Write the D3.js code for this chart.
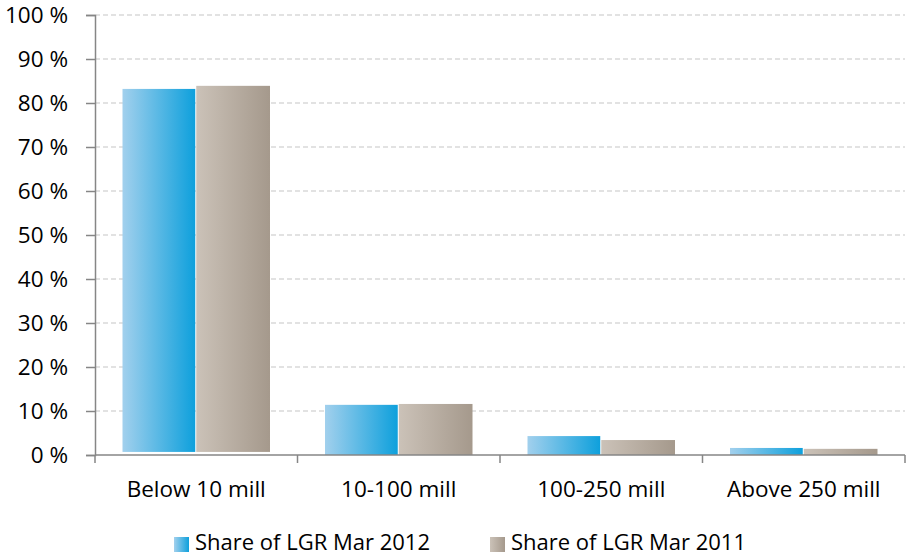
<!DOCTYPE html>
<html>
<head>
<meta charset="utf-8">
<script src="https://cdn.jsdelivr.net/npm/d3@7"></script>
<style>
  html, body { margin: 0; padding: 0; background: #fff; }
  svg { display: block; font-family: "Open Sans", sans-serif; }
</style>
</head>
<body>
<svg id="chart" width="906" height="557"></svg>
<script>
const categories = ["Below 10 mill", "10-100 mill", "100-250 mill", "Above 250 mill"];
const seriesNames = ["Share of LGR Mar 2012", "Share of LGR Mar 2011"];
const share2012 = [83.2, 11.4, 4.3, 1.6];
const share2011 = [83.9, 11.6, 3.4, 1.4];
const barBase = [0.7, 0, 0, 0];
const yTicks = [0, 10, 20, 30, 40, 50, 60, 70, 80, 90, 100];

(function () {
const svg = d3.select("#chart");
const mLeft = 95, mRight = 905, mTop = 15, mBottom = 455;

const x = d3.scaleBand().domain(categories).range([mLeft, mRight]).paddingInner(0).paddingOuter(0);
const y = d3.scaleLinear().domain([0, 100]).range([mBottom, mTop]);
const x1 = d3.scaleBand().domain(seriesNames).range([27.5, x.bandwidth() - 27.5]).padding(0);

const defs = svg.append("defs");
const grads = [
  { id: "gBlue", c0: "#a2d0ed", c1: "#0ea0dc" },
  { id: "gTan", c0: "#cbc2b8", c1: "#a5998c" }
];
grads.forEach(g => {
  const lg = defs.append("linearGradient").attr("id", g.id).attr("x1", "0%").attr("x2", "100%").attr("y1", "0%").attr("y2", "0%");
  lg.append("stop").attr("offset", "0%").attr("stop-color", g.c0);
  lg.append("stop").attr("offset", "100%").attr("stop-color", g.c1);
});

// gridlines
svg.append("g").selectAll("line").data(yTicks.filter(d => d > 0)).join("line")
  .attr("x1", mLeft).attr("x2", mRight)
  .attr("y1", d => y(d)).attr("y2", d => y(d))
  .attr("stroke", "#d9d9d9").attr("stroke-width", 1.5).attr("stroke-dasharray", "5,3");

// bars
const series = [share2012, share2011];
const fills = ["url(#gBlue)", "url(#gTan)"];
series.forEach((vals, si) => {
  svg.append("g").selectAll("rect").data(categories).join("rect")
    .attr("x", (c) => x(c) + x1(seriesNames[si]))
    .attr("width", x1.bandwidth() - (si === 0 ? 1 : 0))
    .attr("y", (c, i) => y(vals[i]))
    .attr("height", (c, i) => y(barBase[i]) - y(vals[i]))
    .attr("fill", fills[si]);
});

// y axis
const yAxis = d3.axisLeft(y).tickValues(yTicks).tickSize(9).tickPadding(18).tickFormat(d => d + " %");
const gy = svg.append("g").attr("transform", `translate(${mLeft},0)`).call(yAxis);
gy.select(".domain").attr("stroke", "#868686").attr("stroke-width", 1.5);
gy.selectAll(".tick line").attr("stroke", "#868686").attr("stroke-width", 1.5);
gy.selectAll(".tick text").attr("font-size", 22.5).attr("fill", "#000").attr("font-family", "Open Sans, sans-serif");

// x axis
const gx = svg.append("g");
gx.append("line").attr("x1", mLeft).attr("x2", mRight).attr("y1", mBottom).attr("y2", mBottom)
  .attr("stroke", "#868686").attr("stroke-width", 1.5);
const bounds = categories.map(c => x(c)).concat([mRight]);
gx.selectAll("line.tk").data(bounds).join("line").attr("class", "tk")
  .attr("x1", d => d).attr("x2", d => d).attr("y1", mBottom).attr("y2", mBottom + 8)
  .attr("stroke", "#868686").attr("stroke-width", 1.5);
gx.selectAll("text").data(categories).join("text")
  .attr("x", d => x(d) + x.bandwidth() / 2).attr("y", 497)
  .attr("text-anchor", "middle").attr("font-size", 22.5).attr("fill", "#000")
  .text(d => d);

// legend
const legendX = [174, 490];
const lg = svg.append("g");
seriesNames.forEach((name, i) => {
  lg.append("rect").attr("x", legendX[i]).attr("y", 537).attr("width", 15).attr("height", 15).attr("fill", fills[i]);
  lg.append("text").attr("x", legendX[i] + 21).attr("y", 550).attr("font-size", 22).attr("fill", "#000").text(name);
});
})();
</script>
</body>
</html>
